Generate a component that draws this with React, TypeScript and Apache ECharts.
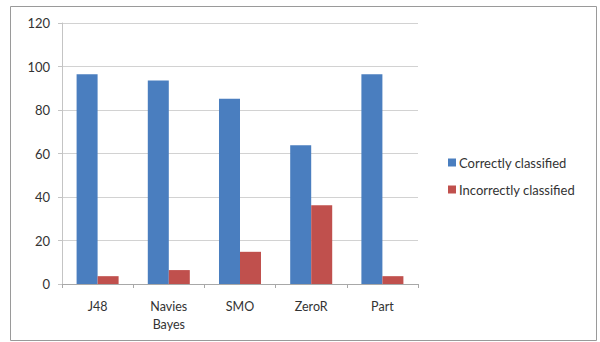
import React, { useEffect, useRef } from "react";
import * as echarts from "echarts";

const categories = ["J48", "Navies\nBayes", "SMO", "ZeroR", "Part"];
const correctly = [96.4, 93.6, 85.2, 63.8, 96.4];
const incorrectly = [3.6, 6.4, 14.8, 36.2, 3.6];
const seriesNames = ["Correctly classified", "Incorrectly classified"];

export default function App() {
  const ref = useRef<HTMLDivElement>(null);
  useEffect(() => {
    const chart = echarts.init(ref.current!, undefined, { renderer: "svg" });
    const font = "Lato, 'Open Sans', sans-serif";
    chart.setOption({
      animation: false,
      backgroundColor: "#ffffff",
      graphic: [
        {
          type: "rect",
          shape: { x: 10.5, y: 6.5, width: 586, height: 334 },
          style: { fill: "none", stroke: "#9a9a9a", lineWidth: 1 },
          silent: true,
        },
      ],
      grid: { left: 62, right: 182, top: 23, bottom: 58 },
      legend: {
        orient: "vertical",
        left: 443,
        top: 151,
        itemWidth: 8,
        itemHeight: 8,
        itemGap: 14,
        icon: "rect",
        textStyle: { fontFamily: font, fontSize: 13, color: "#333", padding: [0, 0, 0, -2] },
        data: seriesNames,
      },
      xAxis: {
        type: "category",
        data: categories,
        axisLine: { lineStyle: { color: "#a8a8a8" } },
        axisTick: { show: true, length: 4, lineStyle: { color: "#a8a8a8" } },
        axisLabel: { fontFamily: font, fontSize: 12.5, color: "#333", margin: 13, lineHeight: 18 },
      },
      yAxis: {
        type: "value",
        min: 0,
        max: 120,
        interval: 20,
        axisLine: { show: true, lineStyle: { color: "#c4c4c4" } },
        axisTick: { show: true, length: 4, lineStyle: { color: "#c4c4c4" } },
        axisLabel: { fontFamily: font, fontSize: 13, color: "#333", margin: 12 },
        splitLine: { lineStyle: { color: "#d2d2d2" } },
      },
      series: [
        {
          name: seriesNames[0],
          type: "bar",
          data: correctly,
          barGap: "0%",
          barCategoryGap: "41%",
          itemStyle: { color: "#4a7ebf" },
        },
        {
          name: seriesNames[1],
          type: "bar",
          data: incorrectly,
          itemStyle: { color: "#c0504d" },
        },
      ],
    });
    return () => chart.dispose();
  }, []);
  return (
    <div
      ref={ref}
      style={{ position: "absolute", left: 0, top: 0, width: 600, height: 342 }}
    />
  );
}
